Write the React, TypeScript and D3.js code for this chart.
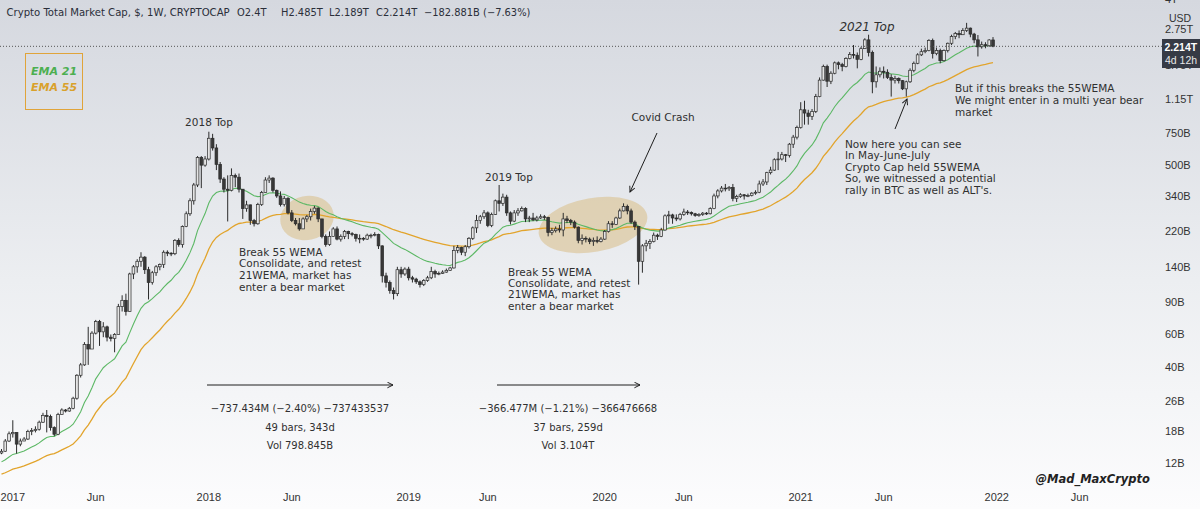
import React from 'react';
import * as d3 from 'd3';

// Crypto total market cap, weekly candles (billions USD).
// Crypto trades around the clock, so each week opens at the previous close.
const firstWeek = '2016-12-12';
const firstOpen = 13.6;

const close2016 = [13.9, 15.8, 17.3];
const high2016 = [14.3, 16.2, 17.8];
const low2016 = [13.4, 13.8, 15.6];

const close2017 = [17.6, 15.2, 15.8, 16.2, 17.8, 18.0, 18.3, 20.0, 21.8, 21.5, 18.7, 17.2, 22.0, 23.3, 23.0, 23.8, 27.0, 36.0, 41.0, 53.0, 50.0, 61.0, 70.5, 62.0, 66.0, 58.0, 57.0, 60.0, 85.0, 92.0, 80.0, 128, 140, 150, 158, 135, 115, 130, 140, 144, 168, 166, 165, 195, 185, 232, 272, 320, 390, 550, 500, 540];
const high2017 = [20.5, 17.6, 16.3, 16.6, 18.2, 18.6, 19.0, 20.4, 22.5, 23.3, 22.0, 19.0, 22.5, 23.8, 23.6, 24.2, 27.5, 36.5, 42.0, 54.5, 66.0, 62.5, 72.0, 72.0, 70.0, 67.0, 60.0, 61.0, 88.0, 98.0, 100, 130, 143, 154, 168, 160, 140, 133, 143, 146, 172, 172, 168, 198, 200, 235, 280, 330, 400, 560, 560, 560];
const low2017 = [16.5, 13.5, 14.8, 15.8, 16.0, 17.0, 17.6, 18.0, 19.8, 17.6, 18.0, 16.8, 17.0, 22.0, 22.6, 22.8, 23.5, 26.5, 35.0, 40.5, 41.0, 50.0, 60.0, 52.0, 58.0, 55.0, 55.0, 48.0, 60.0, 80.0, 76.0, 80.0, 120, 130, 140, 128, 93, 112, 125, 134, 138, 160, 160, 162, 180, 178, 230, 265, 305, 380, 375, 490];

const close2018 = [700, 620, 505, 420, 370, 365, 440, 430, 370, 290, 304, 250, 240, 305, 355, 415, 425, 365, 340, 305, 330, 275, 250, 240, 225, 255, 262, 280, 292, 255, 205, 185, 205, 225, 198, 205, 218, 212, 210, 200, 200, 198, 208, 208, 210, 182, 125, 115, 104, 100, 135, 128, 136];
const high2018 = [760, 740, 650, 520, 430, 440, 480, 450, 450, 370, 320, 305, 255, 312, 362, 430, 440, 430, 368, 360, 340, 335, 285, 258, 258, 260, 268, 290, 300, 295, 255, 210, 218, 230, 232, 210, 222, 220, 216, 212, 210, 203, 212, 212, 216, 212, 183, 130, 118, 108, 140, 140, 139];
const low2018 = [530, 600, 470, 400, 355, 247, 360, 380, 355, 255, 279, 237, 232, 237, 300, 355, 400, 355, 332, 298, 298, 270, 245, 235, 220, 225, 245, 250, 272, 245, 200, 180, 182, 205, 195, 192, 198, 198, 205, 192, 188, 194, 196, 200, 205, 175, 115, 108, 100, 93, 97, 122, 125];

const close2019 = [122, 120, 116, 112, 118, 122, 132, 128, 129, 131, 134, 138, 172, 178, 168, 180, 200, 228, 250, 262, 275, 235, 270, 320, 310, 335, 275, 248, 275, 282, 290, 255, 258, 252, 258, 262, 260, 215, 220, 225, 222, 255, 250, 245, 230, 195, 200, 198, 192, 195, 192, 198];
const high2019 = [140, 125, 122, 118, 120, 125, 140, 135, 132, 134, 137, 140, 182, 184, 180, 184, 203, 232, 268, 268, 285, 280, 276, 325, 390, 350, 345, 280, 285, 292, 298, 295, 265, 275, 265, 270, 268, 262, 228, 232, 237, 275, 265, 255, 250, 232, 210, 205, 202, 202, 205, 203];
const low2019 = [118, 115, 113, 108, 110, 116, 120, 122, 126, 128, 130, 133, 137, 166, 162, 160, 176, 196, 214, 240, 255, 230, 230, 268, 280, 300, 265, 238, 245, 265, 280, 245, 245, 248, 247, 255, 252, 205, 208, 215, 215, 205, 242, 236, 226, 188, 185, 190, 186, 182, 188, 190];

const close2020 = [218, 240, 238, 258, 282, 298, 282, 245, 232, 150, 182, 188, 192, 208, 205, 222, 265, 268, 258, 255, 270, 278, 276, 272, 266, 270, 274, 272, 290, 340, 362, 375, 372, 378, 330, 338, 345, 340, 342, 352, 356, 395, 405, 455, 470, 535, 540, 570, 565, 650, 710, 800];
const high2020 = [222, 248, 248, 262, 290, 310, 305, 290, 250, 232, 186, 196, 198, 215, 212, 228, 270, 282, 272, 270, 275, 290, 285, 280, 275, 274, 278, 278, 295, 350, 370, 385, 395, 385, 395, 345, 352, 348, 350, 356, 365, 412, 420, 460, 490, 545, 590, 590, 575, 660, 730, 820];
const low2020 = [196, 215, 228, 236, 255, 280, 270, 240, 222, 112, 130, 170, 175, 190, 196, 203, 220, 240, 240, 248, 250, 265, 268, 266, 262, 262, 265, 268, 270, 288, 330, 355, 360, 362, 318, 315, 332, 325, 335, 338, 345, 352, 385, 390, 445, 465, 470, 530, 520, 550, 620, 690];

const close2021 = [1000, 960, 920, 980, 1180, 1450, 1720, 1430, 1580, 1800, 1760, 1720, 1900, 2000, 1980, 1880, 2150, 2400, 2050, 1420, 1550, 1620, 1600, 1500, 1450, 1480, 1440, 1300, 1420, 1640, 1790, 1990, 2070, 2100, 2380, 2020, 2100, 1850, 2100, 2300, 2500, 2600, 2560, 2700, 2780, 2580, 2400, 2200, 2260, 2230, 2397, 2214];
const high2021 = [1100, 1120, 1000, 1010, 1220, 1500, 1760, 1760, 1620, 1830, 1830, 1800, 1930, 2060, 2250, 2050, 2200, 2450, 2560, 2100, 1720, 1700, 1720, 1660, 1560, 1530, 1500, 1450, 1440, 1680, 1830, 2030, 2150, 2180, 2420, 2440, 2180, 2150, 2130, 2320, 2560, 2650, 2700, 2780, 2970, 2800, 2620, 2550, 2350, 2330, 2420, 2485];
const low2021 = [790, 830, 830, 880, 960, 1170, 1440, 1330, 1380, 1560, 1660, 1620, 1700, 1880, 1900, 1680, 1860, 2140, 1950, 1230, 1320, 1500, 1480, 1470, 1180, 1390, 1390, 1280, 1180, 1400, 1600, 1770, 1960, 2030, 2080, 1900, 1980, 1790, 1830, 2050, 2250, 2420, 2450, 2550, 2650, 2480, 2300, 1950, 2150, 2160, 2200, 2189];

// EMA values carried in from the weeks before the first candle
const ema21Seed = 12.0;
const ema55Seed = 10.3;

const priceTicks = [4000, 2750, 1750, 1150, 750, 500, 340, 220, 140, 90, 60, 40, 26, 18, 12];
const priceTickLabels = ['4T', '2.75T', '1.75T', '1.15T', '750B', '500B', '340B', '220B', '140B', '90B', '60B', '40B', '26B', '18B', '12B'];
const timeTickDates = ['2017-01-02', '2017-06-05', '2018-01-01', '2018-06-04', '2019-01-07', '2019-06-03', '2020-01-06', '2020-06-01', '2021-01-04', '2021-06-07', '2022-01-03', '2022-06-06'];
const timeTickLabels = ['2017', 'Jun', '2018', 'Jun', '2019', 'Jun', '2020', 'Jun', '2021', 'Jun', '2022', 'Jun'];

const closes = [...close2016, ...close2017, ...close2018, ...close2019, ...close2020, ...close2021];
const highs = [...high2016, ...high2017, ...high2018, ...high2019, ...high2020, ...high2021];
const lows = [...low2016, ...low2017, ...low2018, ...low2019, ...low2020, ...low2021];

const parseDay = d3.utcParse('%Y-%m-%d');
const start = parseDay(firstWeek) as Date;
const candles = closes.map((c, i) => ({
  date: d3.utcMonday.offset(start, i),
  open: i === 0 ? firstOpen : closes[i - 1],
  close: c,
  high: highs[i],
  low: lows[i],
}));

function ema(values: number[], period: number, seed: number) {
  const k = 2 / (period + 1);
  let e = seed;
  return values.map((v) => (e = e + k * (v - e)));
}
const ema21 = ema(closes, 21, ema21Seed);
const ema55 = ema(closes, 55, ema55Seed);

const FONT = 'DejaVu Sans, Verdana, sans-serif';
const AXIS_FONT = 'Liberation Sans, Arial, sans-serif';
const INK = '#2b2b2b';

const x = d3.scaleUtc()
  .domain([candles[0].date, candles[candles.length - 1].date])
  .range([1.5, 993]);
const y = d3.scaleLog().domain([12, 2750]).range([463, 29]);

const lastClose = closes[closes.length - 1];

const TextBlock = ({ x0, y0, lh, lines, anchor = 'start', size = 10.5, style = 'normal' }: any) => (
  <text x={x0} y={y0} fontFamily={FONT} fontSize={size} fill="#303030" textAnchor={anchor} fontStyle={style}>
    {lines.map((l: string, i: number) => (
      <tspan key={i} x={x0} dy={i === 0 ? 0 : lh}>{l}</tspan>
    ))}
  </text>
);

export default function App() {
  const line = (vals: number[]) =>
    d3.line<number>().x((_, i) => x(candles[i].date)).y((v) => y(v))(vals) as string;
  const priceY = y(lastClose);

  return (
    <svg width={1200} height={509} style={{ position: 'absolute', left: 0, top: 0 }}>
      <defs>
        <linearGradient id="bg" x1="0" y1="0" x2="0" y2="1">
          <stop offset="0" stopColor="#d5d8df" />
          <stop offset="0.55" stopColor="#eceef1" />
          <stop offset="1" stopColor="#fcfcfd" />
        </linearGradient>
        <marker id="head" viewBox="0 0 10 10" refX="9" refY="5" markerWidth="7" markerHeight="7" orient="auto">
          <path d="M1,1 L9,5 L1,9" fill="none" stroke="#1e1e1e" strokeWidth="1.4" />
        </marker>
      </defs>
      <rect width={1200} height={509} fill="url(#bg)" />

      {/* highlighted consolidation zones */}
      <ellipse cx={307} cy={218} rx={27} ry={22} fill="#d8be86" opacity={0.55} transform="rotate(-12 307 218)" />
      <ellipse cx={593} cy={225} rx={55} ry={27} fill="#d8be86" opacity={0.55} transform="rotate(-10 593 225)" />

      {/* moving averages */}
      <path d={line(ema55)} fill="none" stroke="#e2a42c" strokeWidth={1.3} />
      <path d={line(ema21)} fill="none" stroke="#5cb865" strokeWidth={1.1} />

      {/* candles */}
      <g>
        {candles.map((c, i) => {
          const cx = x(c.date);
          const up = c.close >= c.open;
          const top = y(Math.max(c.open, c.close));
          const bot = y(Math.min(c.open, c.close));
          return (
            <g key={i}>
              <line x1={cx} x2={cx} y1={y(c.high)} y2={y(c.low)} stroke={INK} strokeWidth={1} />
              <rect x={cx - 1.35} y={top} width={2.7} height={Math.max(bot - top, 0.8)}
                fill={up ? '#e4e4e4' : '#383838'} stroke={INK} strokeWidth={0.7} />
            </g>
          );
        })}
      </g>

      {/* last price line */}
      <line x1={0} x2={1162} y1={priceY} y2={priceY} stroke="#555" strokeWidth={1} strokeDasharray="1 2" />

      {/* price axis */}
      <g fontFamily={AXIS_FONT} fontSize={11} fill="#333">
        {priceTicks.map((v, i) => (
          <text key={i} x={1165} y={y(v) + 4}>{priceTickLabels[i]}</text>
        ))}
        <text x={1169} y={22} fontSize={10.5}>USD</text>
      </g>
      <rect x={1162} y={39} width={38} height={29} fill="#363a45" />
      <text x={1164.5} y={51} fontFamily={AXIS_FONT} fontSize={10.5} fontWeight="bold" fill="#fff">2.214T</text>
      <text x={1165} y={64} fontFamily={AXIS_FONT} fontSize={10.5} fill="#e8e8e8">4d 12h</text>

      {/* time axis */}
      <g fontFamily={AXIS_FONT} fontSize={11} fill="#333" textAnchor="middle">
        {timeTickDates.map((d, i) => (
          <text key={i} x={x(parseDay(d) as Date)} y={501}>{timeTickLabels[i]}</text>
        ))}
      </g>

      {/* header */}
      <g fontFamily={FONT} fontSize={9.9} fill="#2a2e39">
        <text x={6.5} y={16} fontSize={10.1}>Crypto Total Market Cap, $, 1W, CRYPTOCAP</text>
        <text x={237} y={16}>O2.4T</text>
        <text x={281} y={16}>H2.485T</text>
        <text x={329} y={16}>L2.189T</text>
        <text x={376} y={16}>C2.214T</text>
        <text x={424} y={16}>−182.881B (−7.63%)</text>
      </g>

      {/* legend */}
      <rect x={25.5} y={53.5} width={57} height={56} fill="none" stroke="#e0a43a" strokeWidth={1} />
      <text x={31} y={75} fontFamily={FONT} fontSize={11} fontStyle="italic" fontWeight="bold" fill="#4caf50">EMA 21</text>
      <text x={31} y={91} fontFamily={FONT} fontSize={11} fontStyle="italic" fontWeight="bold" fill="#d9a12b">EMA 55</text>

      {/* notes */}
      <TextBlock x0={209} y0={126} lines={['2018 Top']} anchor="middle" />
      <TextBlock x0={509} y0={181} lines={['2019 Top']} anchor="middle" />
      <TextBlock x0={663} y0={121} lines={['Covid Crash']} anchor="middle" />
      <TextBlock x0={867} y0={31} lines={['2021 Top']} anchor="middle" size={12} style="italic" />
      <TextBlock x0={239} y0={255.5} lh={11.8}
        lines={['Break 55 WEMA', 'Consolidate, and retest', '21WEMA, market has', 'enter a bear market']} />
      <TextBlock x0={508} y0={275.5} lh={11.4}
        lines={['Break 55 WEMA', 'Consolidate, and retest', '21WEMA, market has', 'enter a bear market']} />
      <TextBlock x0={845} y0={147.5} lh={11.6}
        lines={['Now here you can see', 'In May-June-July', 'Crypto Cap held 55WEMA', 'So, we witnessed a potential', "rally in BTC as well as ALT's."]} />
      <TextBlock x0={955} y0={92} lh={11.8}
        lines={['But if this breaks the 55WEMA', 'We might enter in a multi year bear', 'market']} />

      <line x1={657} y1={133} x2={630} y2={192} stroke="#1e1e1e" strokeWidth={1} markerEnd="url(#head)" />
      <line x1={895} y1={129} x2={907} y2={99} stroke="#1e1e1e" strokeWidth={1} markerEnd="url(#head)" />

      {/* measured ranges */}
      <line x1={207} y1={385} x2={393} y2={385} stroke="#1e1e1e" strokeWidth={1} markerEnd="url(#head)" />
      <TextBlock x0={300} y0={412} lh={18.5} anchor="middle" size={10}
        lines={['−737.434M (−2.40%) −737433537', '49 bars, 343d', 'Vol 798.845B']} />
      <line x1={497} y1={385} x2={640} y2={385} stroke="#1e1e1e" strokeWidth={1} markerEnd="url(#head)" />
      <TextBlock x0={568} y0={412} lh={18.5} anchor="middle" size={10}
        lines={['−366.477M (−1.21%) −366476668', '37 bars, 259d', 'Vol 3.104T']} />

      <text x={1150} y={483} textAnchor="end" fontFamily={FONT} fontSize={11.5} fontWeight="bold" fontStyle="italic" fill="#222">@Mad_MaxCrypto</text>
    </svg>
  );
}
